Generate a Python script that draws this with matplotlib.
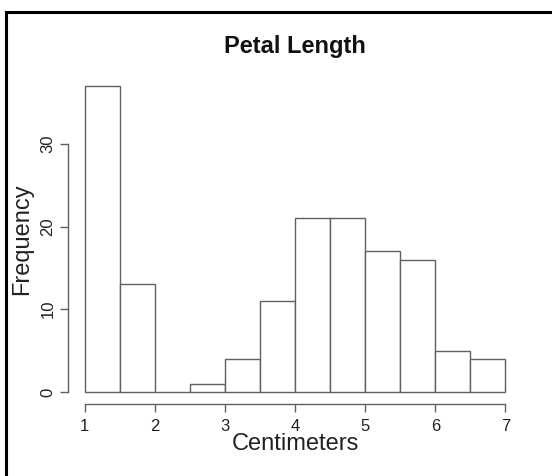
import numpy as np
import matplotlib
matplotlib.use("Agg")
import matplotlib.pyplot as plt
from matplotlib.lines import Line2D

# Histogram of petal length (cm), bin edges and counts
bin_edges = [1.0, 1.5, 2.0, 2.5, 3.0, 3.5, 4.0, 4.5, 5.0, 5.5, 6.0, 6.5, 7.0]
counts = [37, 13, 0, 1, 4, 11, 21, 21, 17, 16, 5, 4]
x_ticks = [1, 2, 3, 4, 5, 6, 7]
y_ticks = [0, 10, 20, 30]

plt.rcParams['font.family'] = ['Liberation Sans', 'DejaVu Sans']

fig = plt.figure(figsize=(5.52, 4.76), dpi=100)
ax = fig.add_axes([0.123, 0.151, 0.823, 0.694])

edges = np.array(bin_edges)
ax.bar(edges[:-1], counts, width=np.diff(edges), align='edge',
       facecolor='white', edgecolor='#606060', linewidth=1.0)

ax.set_xlim(0.76, 7.24)
ax.set_ylim(-1.48, 38.48)

for s in ['top', 'right']:
    ax.spines[s].set_visible(False)
ax.spines['left'].set_bounds(0, 30)
ax.spines['bottom'].set_bounds(1, 7)
for s in ['left', 'bottom']:
    ax.spines[s].set_color('#606060')
    ax.spines[s].set_linewidth(1.0)

ax.set_xticks(x_ticks)
ax.set_yticks(y_ticks)
ax.tick_params(axis='both', direction='out', length=6, width=1.0,
               color='#606060', labelcolor='#222222', labelsize=12, pad=5)
ax.tick_params(axis='y', labelrotation=90, pad=3)
for lab in ax.get_yticklabels():
    lab.set_verticalalignment('center')

fig.text(295 / 552, 1 - 47 / 476, 'Petal Length', fontsize=17, fontweight='bold',
         ha='center', va='center', color='#111111')
ax.set_xlabel('Centimeters', fontsize=17, va='center', color='#222222')
ax.xaxis.set_label_coords(0.5, -0.122)
ax.set_ylabel('Frequency', fontsize=17, va='center', color='#222222')
ax.yaxis.set_label_coords(-0.101, 0.5)

# partial frame around the picture (left and top edges)
fig.add_artist(Line2D([6 / 552, 6 / 552], [0, 1 - 12 / 476], color='black', linewidth=2.2,
                      transform=fig.transFigure))
fig.add_artist(Line2D([6 / 552, 1], [1 - 12 / 476, 1 - 12 / 476], color='black', linewidth=2.2,
                      transform=fig.transFigure))

plt.savefig('out.png', dpi=100)
